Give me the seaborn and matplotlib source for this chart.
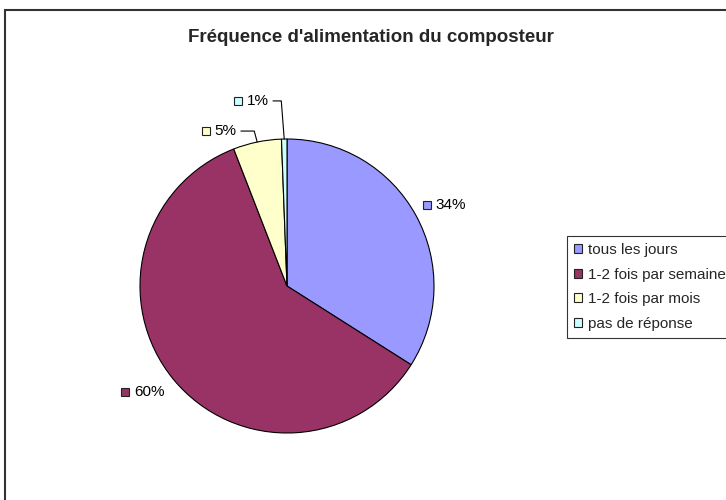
import numpy as np
import matplotlib
matplotlib.use("Agg")
import matplotlib.pyplot as plt
import seaborn as sns
from matplotlib.patches import Rectangle

# ------------------------------------------------------------------------------
# DATA
# ------------------------------------------------------------------------------
categories = ["tous les jours", "1-2 fois par semaine", "1-2 fois par mois", "pas de réponse"]
shares = [34.0, 60.1, 5.3, 0.6]
colors = ["#9999FF", "#993366", "#FFFFCC", "#CCFFFF"]
title = "Fréquence d'alimentation du composteur"

sns.set_theme(style="white")
plt.rcParams["font.family"] = ["Liberation Sans", "DejaVu Sans"]

W, H = 726, 500
fig = plt.figure(figsize=(W / 100, H / 100), dpi=100)
fig.patch.set_facecolor("white")

# pie axes: centre (287, 286) px, radius 147 px
cx, cy, r = 287, 286, 147
ax = fig.add_axes([(cx - r) / W, (H - cy - r) / H, 2 * r / W, 2 * r / H])
ax.axis("off")

wedges, _ = ax.pie(shares, colors=colors, startangle=90, counterclock=False,
                   radius=1, wedgeprops=dict(edgecolor="black", linewidth=0.8))
ax.set_xlim(-1, 1)
ax.set_ylim(-1, 1)
ax.set_aspect("equal")

# label positions (pie units) and whether a leader line is drawn
total = sum(shares)
label_pos = [(0.952, 0.554), (-1.099, -0.724), (-0.551, 1.054), (-0.333, 1.259)]
leaders = [False, False, True, True]

fig.canvas.draw()
for w, s, col, (lx, ly), lead in zip(wedges, shares, colors, label_pos, leaders):
    txt = f"{s / total * 100:.0f}%"
    ax.plot([lx], [ly], marker="s", markersize=5.8, markerfacecolor=col,
            markeredgecolor="#222222", markeredgewidth=0.8, clip_on=False)
    t = ax.text(lx + 0.058, ly, txt, fontsize=11, va="center", ha="left", color="black")
    if lead:
        mid = np.deg2rad((w.theta1 + w.theta2) / 2)
        ex, ey = np.cos(mid), np.sin(mid)
        fig.canvas.draw()
        bb = t.get_window_extent().transformed(ax.transData.inverted())
        x0 = bb.x1 + 0.03
        ax.plot([x0, ex - 0.02, ex], [ly, ly, ey],
                color="black", linewidth=0.8, clip_on=False)

fig.text(371 / W, 1 - 38 / H, title, fontsize=13.5, fontweight="bold",
         ha="center", va="center")

leg = fig.legend(wedges, categories, loc="upper left",
                 bbox_to_anchor=(567 / W, 1 - 236 / H), frameon=True,
                 fontsize=11, handlelength=0.55, handleheight=0.55,
                 handletextpad=0.35, labelspacing=0.7, borderpad=0.45,
                 fancybox=False, borderaxespad=0)
leg.get_frame().set_edgecolor("black")
leg.get_frame().set_linewidth(0.8)
for h in leg.legend_handles:
    h.set_edgecolor("#222222")
    h.set_linewidth(0.8)

# chart area frame (right/bottom edges fall outside the picture)
fig.add_artist(Rectangle((5 / W, -0.2), 1.2, 1.2 - 10 / H, transform=fig.transFigure,
                         fill=False, edgecolor="#333333", linewidth=1.5))

fig.savefig("out.png", dpi=100, facecolor="white")
